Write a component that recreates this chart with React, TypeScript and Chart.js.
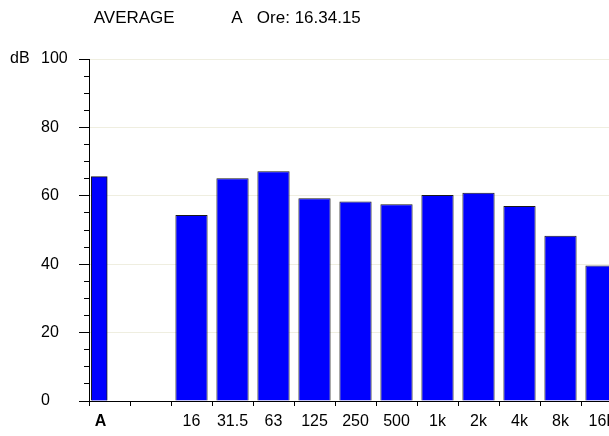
import { useEffect, useRef } from 'react';
import { Chart, registerables } from 'chart.js';

Chart.register(...registerables);

// ---- data ----
const categories = ['A', '', '16', '31.5', '63', '125', '250', '500', '1k', '2k', '4k', '8k', '16k'];
const bandValues: (number | null)[] = [null, null, 54.4, 65.1, 67.2, 59.3, 58.3, 57.5, 60.2, 60.9, 57.0, 48.3, 39.6];
const weightedValues = [65.6];
const yMajorTicks = [0, 20, 40, 60, 80, 100];
const unitLabel = 'dB';
const titleText = ' AVERAGE            A   Ore: 16.34.15';

// hidden half-slot axis for the narrow "A" bar
const halfSlots = categories.flatMap((c, i) => [`${i}a`, `${i}b`]);

const FONT = 'Arial, "Liberation Sans", sans-serif';

export default function App() {
  const ref = useRef<HTMLCanvasElement | null>(null);

  useEffect(() => {
    if (!ref.current) return;
    Chart.defaults.color = '#000';
    const chart = new Chart(ref.current, {
      type: 'bar',
      data: {
        labels: categories,
        datasets: [
          {
            data: bandValues,
            xAxisID: 'x',
            yAxisID: 'y',
            grouped: false,
            backgroundColor: '#0000ff',
            borderColor: '#1a1a1a',
            borderWidth: 1,
            categoryPercentage: 1,
            barPercentage: 0.786,
          },
          {
            data: weightedValues,
            xAxisID: 'xA',
            yAxisID: 'y',
            grouped: false,
            backgroundColor: '#0000ff',
            borderColor: '#1a1a1a',
            borderWidth: 1,
            barThickness: 16,
          },
        ],
      },
      options: {
        responsive: false,
        animation: false,
        layout: { padding: { left: 10, right: 0, top: 0, bottom: 0 } },
        plugins: {
          legend: { display: false },
          tooltip: { enabled: false },
          title: {
            display: true,
            text: titleText,
            align: 'start',
            fullSize: false,
            color: '#000',
            font: { family: FONT, size: 17, weight: 'normal' },
            padding: { top: 8, bottom: 30.6 },
          },
        },
        scales: {
          x: {
            type: 'category',
            offset: true,
            weight: 0,
            grid: {
              offset: true,
              drawOnChartArea: false,
              drawTicks: true,
              tickLength: 5,
              tickColor: '#000',
              color: '#000',
            },
            border: { color: '#000' },
            ticks: {
              autoSkip: false,
              maxRotation: 0,
              padding: 6,
              color: '#000',
              callback: (_v: any, i: number) => (i === 0 ? categories[i] + '    ' : categories[i]),
              font: (ctx: any) => ({ family: FONT, size: 16, weight: ctx.index === 0 ? 'bold' : 'normal' }),
            },
            afterFit: (s: any) => {
              s.height = 35;
            },
          },
          xA: {
            type: 'category',
            position: 'bottom',
            weight: 5,
            labels: halfSlots,
            offset: true,
            display: true,
            grid: { display: false, drawTicks: false, offset: true },
            border: { display: false },
            ticks: { display: false },
            afterFit: (s: any) => {
              s.height = 0;
            },
          },
          y: {
            type: 'linear',
            position: 'left',
            weight: 0,
            min: 0,
            max: 100,
            grid: {
              color: (ctx: any) =>
                ctx.tick && yMajorTicks.includes(ctx.tick.value) && ctx.tick.value !== 0 ? '#efeee0' : 'rgba(0,0,0,0)',
              tickColor: '#000',
              tickLength: 10,
              tickBorderDash: (ctx: any) =>
                ctx.tick && yMajorTicks.includes(ctx.tick.value) ? [] : [0, 5, 5, 0],
            },
            border: { color: '#000' },
            ticks: {
              stepSize: 5,
              autoSkip: false,
              crossAlign: 'far',
              color: '#000',
              font: { family: FONT, size: 16 },
              callback: (v: any) => (yMajorTicks.includes(Number(v)) ? String(v) : ''),
            },
            afterFit: (s: any) => {
              s.width = 48;
            },
          },
          yUnit: {
            type: 'linear',
            position: 'left',
            weight: 2,
            min: 0,
            max: 100,
            afterBuildTicks: (s: any) => {
              s.ticks = [{ value: 100 }];
            },
            grid: { display: false, drawTicks: false },
            border: { display: false },
            ticks: {
              crossAlign: 'far',
              padding: 0,
              color: '#000',
              font: { family: FONT, size: 16 },
              callback: () => unitLabel,
            },
            afterFit: (s: any) => {
              s.width = 31;
            },
          },
        },
      },
    } as any);
    return () => chart.destroy();
  }, []);

  return (
    <div style={{ position: 'fixed', left: 0, top: 0, width: 609, height: 436, overflow: 'hidden', background: '#fff' }}>
      <canvas ref={ref} width={622} height={436} style={{ display: 'block' }} />
    </div>
  );
}
